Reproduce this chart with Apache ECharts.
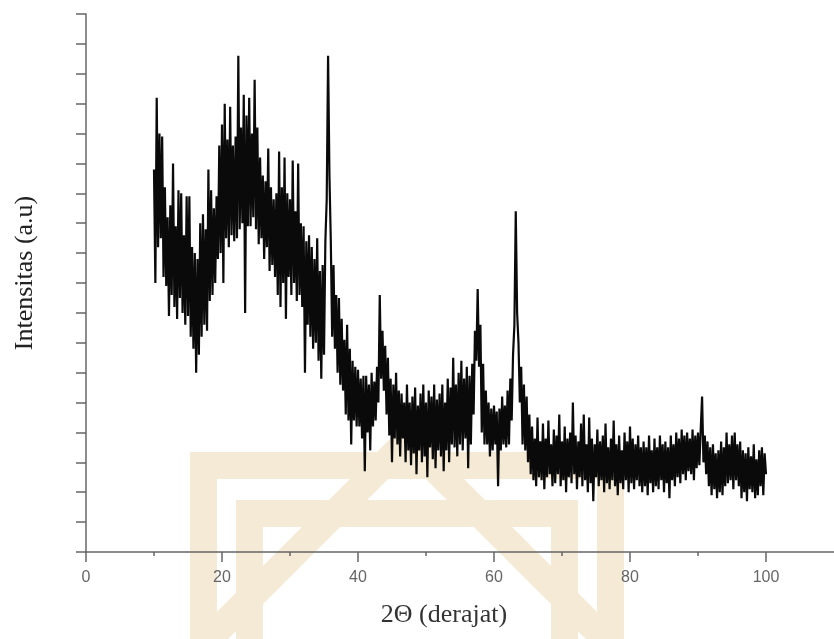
<!DOCTYPE html>
<html><head><meta charset="utf-8">
<script src="https://cdn.jsdelivr.net/npm/echarts@6/dist/echarts.min.js"></script>
<style>html,body{margin:0;padding:0;background:#fff}#c{width:834px;height:639px}</style>
</head><body><div id="c"></div>
<script>
// XRD scan: 2θ from 10° to 100°, step 0.2°
const scanStart = 10;
const scanStep = 0.2;
const intensity = [
12.8,9.0,15.2,10.2,14.0,  10.5,13.9,9.2,12.2,8.9,  11.2,7.9,11.6,8.6,13.0,  8.2,10.9,7.8,12.1,8.5,
12.0,8.0,10.6,7.6,11.9,  7.9,11.9,7.2,10.2,6.8,  10.0,6.0,9.8,6.6,11.0,  7.2,11.3,7.6,10.8,7.4,
12.8,8.4,12.1,8.6,11.5,  9.0,11.9,9.8,13.6,10.0,  14.3,9.0,15.0,10.5,13.8,  10.2,14.9,10.6,13.6,10.4,
13.9,10.5,16.6,10.8,14.2,  11.0,15.3,8.0,14.6,10.9,  15.2,10.9,14.0,11.2,15.8,  10.8,14.2,10.3,13.2,10.5,
12.6,9.8,12.4,10.2,13.5,  9.4,12.2,9.6,11.8,9.2,  12.0,8.6,13.4,8.2,12.2,  9.0,13.2,7.8,12.0,9.2,
11.8,8.6,13.1,9.0,11.4,  8.4,13.0,8.6,11.0,8.2,  10.9,6.0,10.4,7.6,10.6,  7.2,10.2,6.8,9.8,7.0,
10.5,6.4,9.4,5.8,9.6,  6.6,10.4,11.8,16.6,12.6,  10.4,7.2,9.6,6.8,8.6,  6.0,8.5,5.6,7.8,5.4,
7.1,4.6,7.6,4.4,6.8,  3.6,6.4,4.4,6.2,4.2,  6.1,4.2,5.8,3.8,5.9,  2.7,5.9,4.0,5.6,3.4,
6.0,4.2,5.7,4.4,6.2,  5.0,8.6,5.8,7.4,5.4,  6.9,4.6,6.5,3.9,5.8,  3.0,5.6,3.8,6.0,3.6,
5.4,3.2,5.3,3.8,5.0,  3.0,5.6,3.4,5.0,2.9,  5.2,3.3,5.5,2.6,4.9,  3.4,5.3,3.0,5.6,3.2,
5.0,2.5,5.4,3.5,5.2,  3.1,5.6,2.8,5.1,3.4,  5.3,3.2,5.6,2.7,5.0,  3.4,5.8,3.0,5.5,3.6,
6.5,3.5,5.6,3.2,6.0,  3.6,6.4,3.4,5.8,3.8,  6.2,2.8,5.9,3.6,6.3,  4.6,7.4,6.4,8.8,6.2,
7.6,4.0,6.3,3.6,5.4,  3.6,5.0,3.2,4.8,3.4,  4.9,3.6,4.7,2.2,4.8,  3.4,5.2,3.6,4.9,3.5,
5.4,3.6,5.8,4.4,6.6,  7.6,11.4,8.0,7.0,5.0,  6.2,3.6,5.6,3.4,5.2,  3.0,4.6,2.6,4.2,2.4,
3.8,2.2,4.5,2.5,3.7,  2.4,4.3,2.1,3.8,2.5,  4.4,2.6,3.6,2.2,4.1,  2.3,3.9,2.6,4.6,2.2,
3.7,2.4,4.2,2.0,3.8,  2.5,4.0,2.3,5.0,2.6,  3.9,2.1,3.7,2.5,4.3,  2.2,4.6,2.4,3.6,2.0,
4.5,2.3,3.8,1.7,3.6,  2.5,4.1,2.2,3.7,2.4,  3.9,2.0,4.3,2.3,3.5,  2.1,3.8,2.4,4.4,2.2,
3.6,1.9,3.9,2.3,3.4,  2.1,4.0,2.4,3.7,2.0,  4.2,2.3,3.8,2.1,3.6,  2.4,3.9,2.2,3.5,2.0,
3.7,2.2,3.5,1.9,3.9,  2.3,3.4,2.0,3.8,2.2,  3.5,2.1,3.9,2.4,3.6,  2.0,3.7,2.3,3.5,1.8,
3.9,2.4,3.6,2.2,4.0,  2.5,3.8,2.3,4.1,2.6,  3.9,2.4,4.0,2.7,3.8,  2.6,4.1,2.4,3.9,2.8,
4.0,2.9,4.1,5.2,3.0,  3.9,2.6,3.7,2.2,3.5,  1.9,3.6,2.1,3.3,1.8,  3.4,2.0,3.7,1.9,3.5,
2.2,4.0,2.3,3.6,2.4,  3.9,2.1,4.0,2.4,3.6,  2.2,3.7,1.8,3.4,2.0,  3.3,1.7,3.5,2.1,3.2,
2.0,3.6,1.8,3.1,1.9,  3.4,2.2,3.5,1.9,3.3,
2.6
];
const twoTheta = intensity.map((_, i) => +(scanStart + i * scanStep).toFixed(1));

const xTickLabels = [0, 20, 40, 60, 80, 100];
const xMinorTicks = [10, 30, 50, 70, 90];
const xAxisTitle = '2\u0398 (derajat)';
const yAxisTitle = 'Intensitas (a.u)';

const chart = echarts.init(document.getElementById('c'), null, {renderer: 'canvas'});
const axisColor = '#666';
const wm = '#f5ead5';
chart.setOption({
  animation: false,
  backgroundColor: '#fff',
  grid: {left: 86, right: 0, top: 14, bottom: 87, containLabel: false},
  graphic: {
    elements: [
      {type: 'polyline', z: -1, silent: true,
       shape: {points: [[203.5, 700], [203.5, 465.5], [610.5, 465.5], [610.5, 700]]},
       style: {stroke: wm, lineWidth: 27, fill: null, lineJoin: 'miter'}},
      {type: 'polyline', z: -1, silent: true,
       shape: {points: [[249.5, 700], [249.5, 513.5], [564.5, 513.5], [564.5, 700]]},
       style: {stroke: wm, lineWidth: 27, fill: null, lineJoin: 'miter'}},
      {type: 'polyline', z: -1, silent: true,
       shape: {points: [[179, 669], [407, 441], [635, 669]]},
       style: {stroke: wm, lineWidth: 27, fill: null, lineJoin: 'miter'}}
    ]
  },
  xAxis: [{
    type: 'value', min: 0, max: 110,
    name: xAxisTitle, nameLocation: 'middle', nameGap: 50,
    nameTextStyle: {fontFamily: 'Liberation Serif', fontSize: 26, color: '#333', padding: [0, 32, 0, 0]},
    axisLine: {show: true, onZero: false, lineStyle: {color: axisColor, width: 1.5}},
    axisTick: {show: true, customValues: xTickLabels, length: 10, lineStyle: {color: axisColor, width: 1.5}},
    axisLabel: {show: true, customValues: xTickLabels, margin: 18, fontFamily: 'Liberation Sans', fontSize: 16, color: '#666'},
    splitLine: {show: false}
  }, {
    type: 'value', min: 0, max: 110, position: 'bottom',
    axisLine: {show: false},
    axisTick: {show: true, customValues: xMinorTicks, length: 4, lineStyle: {color: axisColor, width: 1.5}},
    axisLabel: {show: false},
    splitLine: {show: false}
  }],
  yAxis: {
    type: 'value', min: 0, max: 18, interval: 1,
    name: yAxisTitle, nameLocation: 'middle', nameGap: 48,
    nameTextStyle: {fontFamily: 'Liberation Serif', fontSize: 26, color: '#222', padding: [0, 0, 0, 20]},
    axisLine: {show: true, onZero: false, lineStyle: {color: axisColor, width: 1.5}},
    axisTick: {show: true, length: 10, lineStyle: {color: axisColor, width: 1.5}},
    axisLabel: {show: false},
    splitLine: {show: false}
  },
  series: [{
    type: 'line', xAxisIndex: 0,
    data: twoTheta.map((x, i) => [x, intensity[i]]),
    showSymbol: false, symbol: 'none',
    lineStyle: {color: '#0a0a0a', width: 2.2, join: 'miter'},
    z: 2
  }]
});
</script>
</body></html>
